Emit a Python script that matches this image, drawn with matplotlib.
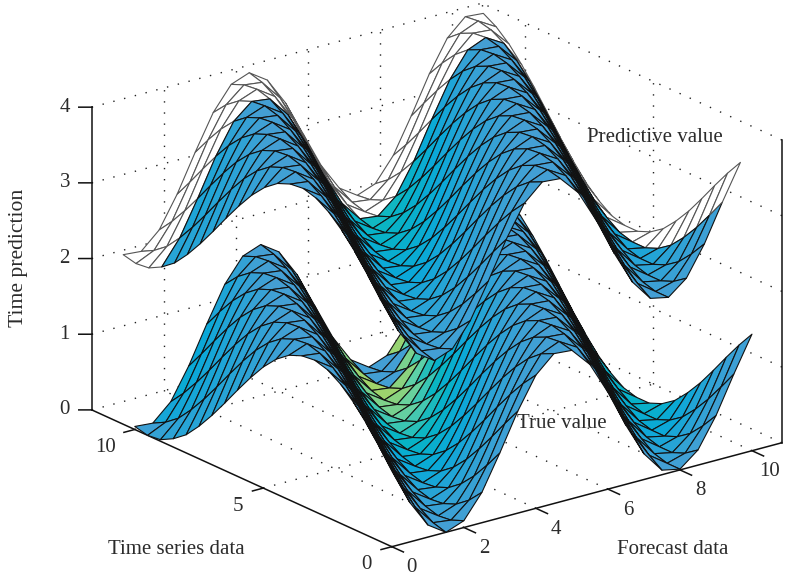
import numpy as np
import matplotlib
matplotlib.use("Agg")
import matplotlib.pyplot as plt
from matplotlib.colors import LinearSegmentedColormap
from mpl_toolkits.mplot3d import proj3d

# grid of both surfaces, rows follow time series data, columns forecast data
forecast = [0.0, 0.5, 1.0, 1.5, 2.0, 2.5, 3.0, 3.5, 4.0, 4.5, 5.0, 5.5, 6.0, 6.5, 7.0, 7.5, 8.0, 8.5, 9.0, 9.5, 10.0]
series_true = [0.0, 0.5, 1.0, 1.5, 2.0, 2.5, 3.0, 3.5, 4.0, 4.5, 5.0, 5.5, 6.0, 6.5, 7.0, 7.5, 8.0, 8.5, 9.0, 9.5, 10.0]
series_pred = [0.45, 0.95, 1.45, 1.95, 2.45, 2.95, 3.45, 3.95, 4.45, 4.95, 5.45, 5.95, 6.45, 6.95, 7.45, 7.95, 8.45, 8.95, 9.45, 9.95, 10.45]

true_value = [
    [1.00, .52, .16, .00, .09, .40, .86, 1.35, 1.76, 1.98, 1.96, 1.71, 1.28, .78, .34, .06, .01, .20, .59, 1.08, 1.54],
    [1.25, .75, .32, .05, .02, .22, .62, 1.11, 1.57, 1.90, 2.00, 1.86, 1.51, 1.03, .55, .18, .01, .08, .38, .83, 1.32],
    [1.48, 1.00, .52, .16, .00, .09, .40, .86, 1.35, 1.76, 1.98, 1.96, 1.71, 1.28, .78, .34, .06, .01, .20, .59, 1.08],
    [1.68, 1.25, .75, .32, .05, .02, .22, .62, 1.11, 1.57, 1.90, 2.00, 1.86, 1.51, 1.03, .55, .18, .01, .08, .38, .83],
    [1.84, 1.48, 1.00, .52, .16, .00, .09, .40, .86, 1.35, 1.76, 1.98, 1.96, 1.71, 1.28, .78, .34, .06, .01, .20, .59],
    [1.95, 1.68, 1.25, .75, .32, .05, .02, .22, .62, 1.11, 1.57, 1.90, 2.00, 1.86, 1.51, 1.03, .55, .18, .01, .08, .38],
    [2.00, 1.84, 1.48, 1.00, .52, .16, .00, .09, .40, .86, 1.35, 1.76, 1.98, 1.96, 1.71, 1.28, .78, .34, .06, .01, .20],
    [1.98, 1.95, 1.68, 1.25, .75, .32, .05, .02, .22, .62, 1.11, 1.57, 1.90, 2.00, 1.86, 1.51, 1.03, .55, .18, .01, .08],
    [1.91, 2.00, 1.84, 1.48, 1.00, .52, .16, .00, .09, .40, .86, 1.35, 1.76, 1.98, 1.96, 1.71, 1.28, .78, .34, .06, .01],
    [1.78, 1.98, 1.95, 1.68, 1.25, .75, .32, .05, .02, .22, .62, 1.11, 1.57, 1.90, 2.00, 1.86, 1.51, 1.03, .55, .18, .01],
    [1.60, 1.91, 2.00, 1.84, 1.48, 1.00, .52, .16, .00, .09, .40, .86, 1.35, 1.76, 1.98, 1.96, 1.71, 1.28, .78, .34, .06],
    [1.38, 1.78, 1.98, 1.95, 1.68, 1.25, .75, .32, .05, .02, .22, .62, 1.11, 1.57, 1.90, 2.00, 1.86, 1.51, 1.03, .55, .18],
    [1.14, 1.60, 1.91, 2.00, 1.84, 1.48, 1.00, .52, .16, .00, .09, .40, .86, 1.35, 1.76, 1.98, 1.96, 1.71, 1.28, .78, .34],
    [.89, 1.38, 1.78, 1.98, 1.95, 1.68, 1.25, .75, .32, .05, .02, .22, .62, 1.11, 1.57, 1.90, 2.00, 1.86, 1.51, 1.03, .55],
    [.65, 1.14, 1.60, 1.91, 2.00, 1.84, 1.48, 1.00, .52, .16, .00, .09, .40, .86, 1.35, 1.76, 1.98, 1.96, 1.71, 1.28, .78],
    [.43, .89, 1.38, 1.78, 1.98, 1.95, 1.68, 1.25, .75, .32, .05, .02, .22, .62, 1.11, 1.57, 1.90, 2.00, 1.86, 1.51, 1.03],
    [.24, .65, 1.14, 1.60, 1.91, 2.00, 1.84, 1.48, 1.00, .52, .16, .00, .09, .40, .86, 1.35, 1.76, 1.98, 1.96, 1.71, 1.28],
    [.11, .43, .89, 1.38, 1.78, 1.98, 1.95, 1.68, 1.25, .75, .32, .05, .02, .22, .62, 1.11, 1.57, 1.90, 2.00, 1.86, 1.51],
    [.02, .24, .65, 1.14, 1.60, 1.91, 2.00, 1.84, 1.48, 1.00, .52, .16, .00, .09, .40, .86, 1.35, 1.76, 1.98, 1.96, 1.71],
    [.00, .11, .43, .89, 1.38, 1.78, 1.98, 1.95, 1.68, 1.25, .75, .32, .05, .02, .22, .62, 1.11, 1.57, 1.90, 2.00, 1.86],
    [.04, .02, .24, .65, 1.14, 1.60, 1.91, 2.00, 1.84, 1.48, 1.00, .52, .16, .00, .09, .40, .86, 1.35, 1.76, 1.98, 1.96],
]

predictive_value = [
    [3.20, 2.72, 2.36, 2.20, 2.29, 2.60, 3.06, 3.55, 3.96, 4.18, 4.16, 3.91, 3.48, 2.98, 2.54, 2.26, 2.21, 2.40, 2.79, 3.28, 3.74],
    [3.45, 2.95, 2.52, 2.25, 2.22, 2.42, 2.82, 3.31, 3.77, 4.10, 4.20, 4.06, 3.71, 3.23, 2.75, 2.38, 2.21, 2.28, 2.58, 3.03, 3.52],
    [3.68, 3.20, 2.72, 2.36, 2.20, 2.29, 2.60, 3.06, 3.55, 3.96, 4.18, 4.16, 3.91, 3.48, 2.98, 2.54, 2.26, 2.21, 2.40, 2.79, 3.28],
    [3.88, 3.45, 2.95, 2.52, 2.25, 2.22, 2.42, 2.82, 3.31, 3.77, 4.10, 4.20, 4.06, 3.71, 3.23, 2.75, 2.38, 2.21, 2.28, 2.58, 3.03],
    [4.04, 3.68, 3.20, 2.72, 2.36, 2.20, 2.29, 2.60, 3.06, 3.55, 3.96, 4.18, 4.16, 3.91, 3.48, 2.98, 2.54, 2.26, 2.21, 2.40, 2.79],
    [4.15, 3.88, 3.45, 2.95, 2.52, 2.25, 2.22, 2.42, 2.82, 3.31, 3.77, 4.10, 4.20, 4.06, 3.71, 3.23, 2.75, 2.38, 2.21, 2.28, 2.58],
    [4.20, 4.04, 3.68, 3.20, 2.72, 2.36, 2.20, 2.29, 2.60, 3.06, 3.55, 3.96, 4.18, 4.16, 3.91, 3.48, 2.98, 2.54, 2.26, 2.21, 2.40],
    [4.18, 4.15, 3.88, 3.45, 2.95, 2.52, 2.25, 2.22, 2.42, 2.82, 3.31, 3.77, 4.10, 4.20, 4.06, 3.71, 3.23, 2.75, 2.38, 2.21, 2.28],
    [4.11, 4.20, 4.04, 3.68, 3.20, 2.72, 2.36, 2.20, 2.29, 2.60, 3.06, 3.55, 3.96, 4.18, 4.16, 3.91, 3.48, 2.98, 2.54, 2.26, 2.21],
    [3.98, 4.18, 4.15, 3.88, 3.45, 2.95, 2.52, 2.25, 2.22, 2.42, 2.82, 3.31, 3.77, 4.10, 4.20, 4.06, 3.71, 3.23, 2.75, 2.38, 2.21],
    [3.80, 4.11, 4.20, 4.04, 3.68, 3.20, 2.72, 2.36, 2.20, 2.29, 2.60, 3.06, 3.55, 3.96, 4.18, 4.16, 3.91, 3.48, 2.98, 2.54, 2.26],
    [3.58, 3.98, 4.18, 4.15, 3.88, 3.45, 2.95, 2.52, 2.25, 2.22, 2.42, 2.82, 3.31, 3.77, 4.10, 4.20, 4.06, 3.71, 3.23, 2.75, 2.38],
    [3.34, 3.80, 4.11, 4.20, 4.04, 3.68, 3.20, 2.72, 2.36, 2.20, 2.29, 2.60, 3.06, 3.55, 3.96, 4.18, 4.16, 3.91, 3.48, 2.98, 2.54],
    [3.09, 3.58, 3.98, 4.18, 4.15, 3.88, 3.45, 2.95, 2.52, 2.25, 2.22, 2.42, 2.82, 3.31, 3.77, 4.10, 4.20, 4.06, 3.71, 3.23, 2.75],
    [2.85, 3.34, 3.80, 4.11, 4.20, 4.04, 3.68, 3.20, 2.72, 2.36, 2.20, 2.29, 2.60, 3.06, 3.55, 3.96, 4.18, 4.16, 3.91, 3.48, 2.98],
    [2.63, 3.09, 3.58, 3.98, 4.18, 4.15, 3.88, 3.45, 2.95, 2.52, 2.25, 2.22, 2.42, 2.82, 3.31, 3.77, 4.10, 4.20, 4.06, 3.71, 3.23],
    [2.44, 2.85, 3.34, 3.80, 4.11, 4.20, 4.04, 3.68, 3.20, 2.72, 2.36, 2.20, 2.29, 2.60, 3.06, 3.55, 3.96, 4.18, 4.16, 3.91, 3.48],
    [2.31, 2.63, 3.09, 3.58, 3.98, 4.18, 4.15, 3.88, 3.45, 2.95, 2.52, 2.25, 2.22, 2.42, 2.82, 3.31, 3.77, 4.10, 4.20, 4.06, 3.71],
    [2.22, 2.44, 2.85, 3.34, 3.80, 4.11, 4.20, 4.04, 3.68, 3.20, 2.72, 2.36, 2.20, 2.29, 2.60, 3.06, 3.55, 3.96, 4.18, 4.16, 3.91],
    [2.20, 2.31, 2.63, 3.09, 3.58, 3.98, 4.18, 4.15, 3.88, 3.45, 2.95, 2.52, 2.25, 2.22, 2.42, 2.82, 3.31, 3.77, 4.10, 4.20, 4.06],
    [2.24, 2.22, 2.44, 2.85, 3.34, 3.80, 4.11, 4.20, 4.04, 3.68, 3.20, 2.72, 2.36, 2.20, 2.29, 2.60, 3.06, 3.55, 3.96, 4.18, 4.16],
]

x_ticks = [0, 2, 4, 6, 8, 10]
y_ticks = [0, 5, 10]
z_ticks = [0, 1, 2, 3, 4]
x_max = 10.83
y_max = 11.67
z_max = 4

FONT = "Liberation Serif"
TEXT_COLOR = "#2b2b2b"
blues = LinearSegmentedColormap.from_list(
    "blues", ["#449fd4", "#0ba8d8", "#07b4c4", "#5cd0a8", "#a9d462"])


def cell_colors(z, valley_strength, white_x=None, white_y=None):
    z = np.array(z)
    rows, cols = z.shape
    colors = np.zeros((rows - 1, cols - 1, 4))
    edges = []
    for j in range(rows - 1):
        for i in range(cols - 1):
            if (white_x is not None and i >= white_x) or (white_y is not None and j >= white_y):
                colors[j, i] = (1, 1, 1, 1)
                edges.append("#555555")
                continue
            far = j / (rows - 2)
            mean = z[j:j + 2, i:i + 2].mean()
            low = 1 - (mean - z.min()) / (z.max() - z.min())
            rise = z[j, i + 1] - z[j, i]
            tone = valley_strength * low ** 2 * far * min(1, i / 10) + 0.35 * max(rise, 0) * (0.2 + 0.8 * far)
            colors[j, i] = blues(min(tone, 1))
            edges.append("#111111")
    return colors, edges


def tick_label(x, y, z, text, dx, dy):
    # dx, dy in pixels from the tick, right and down
    x2, y2, _ = proj3d.proj_transform(x, y, z, ax.get_proj())
    ax.annotate(text, (x2, y2), xytext=(dx * 0.72, -dy * 0.72), textcoords="offset points",
                family=FONT, fontsize=15, color=TEXT_COLOR, ha="center", va="center",
                annotation_clip=False)


fig = plt.figure(figsize=(7.85, 5.8), dpi=100)
ax = fig.add_axes([139 / 785, 7.2 / 580, 580 / 785, 1], projection="3d", proj_type="ortho")
ax.computed_zorder = False
ax.view_init(elev=20.4, azim=-127.4)
ax.set_box_aspect((491, 494, 323), zoom=1.285)
ax.set_xlim(0, x_max, view_margin=0)
ax.set_ylim(0, y_max, view_margin=0)
ax.set_zlim(0, z_max, view_margin=0)
ax.set_axis_off()

# dotted walls and floor
dots = dict(color="#222222", linewidth=1.0, linestyle=(0, (1, 7)), zorder=1)
for x in x_ticks[1:]:
    ax.plot([x, x], [0, y_max], [0, 0], **dots)
    ax.plot([x, x], [y_max, y_max], [0, z_max], **dots)
for y in y_ticks[1:]:
    ax.plot([0, x_max], [y, y], [0, 0], **dots)
    ax.plot([x_max, x_max], [y, y], [0, z_max], **dots)
for z in z_ticks:
    ax.plot([0, x_max], [y_max, y_max], [z, z], **dots)
    ax.plot([x_max, x_max], [0, y_max], [z, z], **dots)
ax.plot([x_max, x_max], [y_max, y_max], [0, z_max], **dots)

# solid axes
solid = dict(color="#111111", linewidth=1.1, zorder=2)
ax.plot([0, x_max], [0, 0], [0, 0], **solid)
ax.plot([0, 0], [0, y_max], [0, 0], **solid)
ax.plot([0, 0], [y_max, y_max], [0, z_max], **solid)
ax.plot([x_max, x_max], [0, 0], [0, z_max], **solid)
for x in x_ticks:
    ax.plot([x, x], [0, -0.45], [0, 0], **solid)
    tick_label(x, 0, 0, str(x), 20 - 2 * (len(str(x)) - 1), 21)
for y in y_ticks:
    ax.plot([0, -0.3], [y, y], [0, 0], **solid)
    tick_label(0, y, 0, str(y), -25 - 4 * (len(str(y)) - 1), 18)
for z in z_ticks:
    ax.plot([0, -0.228], [y_max, y_max + 0.187], [z, z], **solid)
    tick_label(0, y_max, z, str(z), -27, 0)

# lower surface first, the upper one always covers it
faces, edges = cell_colors(true_value, 1.15)
X, Y = np.meshgrid(forecast, series_true)
surf = ax.plot_surface(X, Y, np.array(true_value), facecolors=faces, shade=False,
                       rstride=1, cstride=1, linewidth=0.8, zorder=3)
surf.set_edgecolor(edges)

faces, edges = cell_colors(predictive_value, 0.62, white_x=19, white_y=17)
X, Y = np.meshgrid(forecast, series_pred)
surf = ax.plot_surface(X, Y, np.array(predictive_value), facecolors=faces, shade=False,
                       rstride=1, cstride=1, linewidth=0.8, zorder=4)
surf.set_edgecolor(edges)

# the box reaches past the square 3d axes
for artist in ax.lines + ax.collections:
    artist.set_clip_on(False)

label = dict(family=FONT, fontsize=15, color=TEXT_COLOR, ha="center", va="center")
fig.text(176 / 785, 1 - 550 / 580, "Time series data", **label)
fig.text(673 / 785, 1 - 550 / 580, "Forecast data", **label)
fig.text(655 / 785, 1 - 138 / 580, "Predictive value", **label)
fig.text(562 / 785, 1 - 424 / 580, "True value", **label)
label["fontsize"] = 15.6
fig.text(18.5 / 785, 1 - 258 / 580, "Time prediction", rotation=90, **label)

fig.savefig("out.png", dpi=100)
